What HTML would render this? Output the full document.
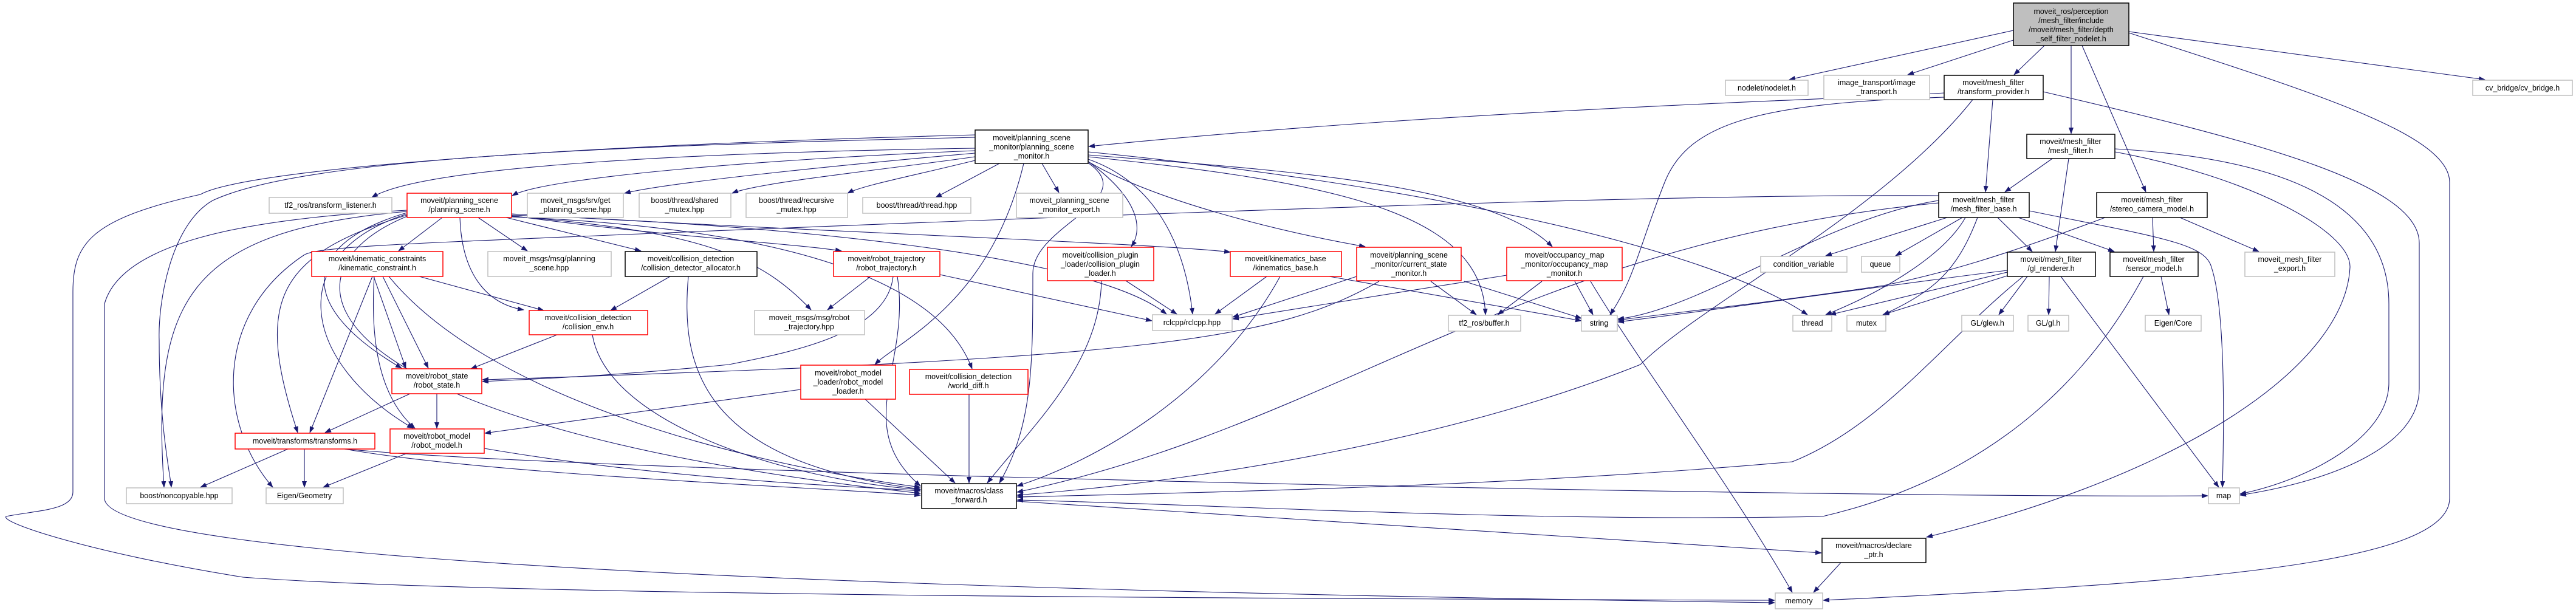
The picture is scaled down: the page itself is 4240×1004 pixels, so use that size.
<!DOCTYPE html>
<html><head><meta charset="utf-8">
<style>
html,body{margin:0;padding:0;background:#fff;}
svg{display:block;}
text{font-family:"Liberation Sans",Arial,sans-serif;font-size:12.5px;fill:#000;text-anchor:middle;}
.e{fill:none;stroke:#191970;stroke-width:1.1;marker-end:url(#a);}
.g{fill:#fff;stroke:#bfbfbf;stroke-width:1.5;}
.b{fill:#fff;stroke:#000;stroke-width:1.5;}
.r{fill:#fff;stroke:#ff0000;stroke-width:1.5;}
.rt{fill:#bfbfbf;stroke:#000;stroke-width:1.5;}
</style></head>
<body>
<svg width="4240" height="1004" viewBox="0 0 4240 1004" xmlns="http://www.w3.org/2000/svg">
<defs>
<marker id="a" markerWidth="11" markerHeight="8" refX="10" refY="4" orient="auto" markerUnits="userSpaceOnUse">
<path d="M0,0 L11,4 L0,8 z" fill="#191970"/>
</marker>
</defs>

<!-- EDGES -->
<g>
<!-- root -->
<path class="e" d="M3314,50 L2945,131"/>
<path class="e" d="M3314,66 L3140,123"/>
<path class="e" d="M3365,75 L3315,123"/>
<path class="e" d="M3409,75 L3409,220"/>
<path class="e" d="M3427,75 L3532,316"/>
<path class="e" d="M3504,52 L4090,131"/>
<path class="e" d="M3504,54 C3800,150 4032,220 4032,300 L4032,820 C4032,930 3600,960 3001,988"/>
<!-- transform_provider -->
<path class="e" d="M3200,153 C3000,165 2400,180 1792,241"/>
<path class="e" d="M3200,160 C2900,170 2780,200 2740,300 C2700,400 2690,460 2650,518"/>
<path class="e" d="M3280,164 L3268,316"/>
<path class="e" d="M3247,164 C3100,350 2800,500 2700,600 C2400,720 2000,790 1674,815"/>
<path class="e" d="M3363,151 C3700,230 3982,300 3982,400 L3982,640 C3982,730 3850,790 3687,815"/>
<!-- mesh_filter.h -->
<path class="e" d="M3378,261 L3300,316"/>
<path class="e" d="M3405,261 L3383,414"/>
<path class="e" d="M3481,245 C3750,260 3932,330 3932,500 L3932,630 C3932,720 3800,790 3687,813"/>
<path class="e" d="M3481,250 C3700,290 3870,380 3868,440 C3860,600 3600,780 3171,884"/>
<!-- stereo -->
<path class="e" d="M3543,358 L3545,414"/>
<path class="e" d="M3588,358 L3718,414"/>
<path class="e" d="M3465,358 C3300,420 3200,450 3100,470 C2900,500 2750,515 2663,527"/>
<!-- mesh_filter_base -->
<path class="e" d="M3205,358 L3005,421"/>
<path class="e" d="M3230,358 L3120,421"/>
<path class="e" d="M3235,358 C3200,420 3100,480 3005,518"/>
<path class="e" d="M3255,358 C3220,450 3180,480 3100,518"/>
<path class="e" d="M3288,358 L3345,414"/>
<path class="e" d="M3322,358 L3480,414"/>
<path class="e" d="M3340,347 C3550,390 3630,400 3640,440 C3660,500 3662,650 3658,802"/>
<path class="e" d="M3191,330 C3000,360 2800,510 2663,525"/>
<path class="e" d="M3191,322 C2900,320 2400,330 1100,383 C700,400 520,405 500,420 C350,520 360,700 449,802"/>
<path class="e" d="M3191,334 C2500,400 2200,700 1674,810"/>
<!-- gl_renderer -->
<path class="e" d="M3337,455 L3290,518"/>
<path class="e" d="M3373,455 L3372,518"/>
<path class="e" d="M3392,455 L3652,802"/>
<path class="e" d="M3304,448 L3012,518"/>
<path class="e" d="M3310,452 L3099,518"/>
<path class="e" d="M3304,445 C3100,470 2900,500 2663,530"/>
<path class="e" d="M3330,455 C3200,560 3100,700 2950,760 C2500,800 2000,810 1674,818"/>
<!-- sensor_model -->
<path class="e" d="M3557,455 L3570,518"/>
<path class="e" d="M3528,455 C3450,600 3300,780 3000,850 C2500,860 2000,830 1674,823"/>
<!-- planning_scene_monitor -->
<path class="e" d="M1605,244 C1200,250 700,270 612,325"/>
<path class="e" d="M1605,248 C1300,260 900,290 843,322"/>
<path class="e" d="M1605,252 C1400,270 1100,300 1028,318"/>
<path class="e" d="M1605,258 C1450,280 1250,300 1205,318"/>
<path class="e" d="M1605,264 C1500,290 1420,305 1395,318"/>
<path class="e" d="M1645,269 L1540,325"/>
<path class="e" d="M1715,269 L1743,317"/>
<path class="e" d="M1685,269 C1630,500 1480,560 1440,600"/>
<path class="e" d="M1790,265 C1880,330 1880,380 1862,406"/>
<path class="e" d="M1791,262 C1900,300 1950,400 1963,517"/>
<path class="e" d="M1791,266 C1900,330 2100,380 2247,406"/>
<path class="e" d="M1791,255 C2100,280 2450,300 2555,406"/>
<path class="e" d="M1791,258 C2200,300 2440,350 2445,518"/>
<path class="e" d="M1791,250 C2300,300 2800,400 2975,518"/>
<path class="e" d="M1791,268 C1880,330 1700,370 1700,450 C1700,600 1700,700 1645,795"/>
<path class="e" d="M1605,226 C1000,240 500,260 350,330 C280,370 260,500 262,560 C262,700 280,780 282,802"/>
<path class="e" d="M1605,222 C900,240 400,280 330,320 C150,360 120,400 120,480 L120,810 C120,840 60,840 10,850 C0,860 150,910 400,950 C800,980 2000,985 2921,988"/>
<!-- planning_scene.h -->
<path class="e" d="M728,358 L656,413"/>
<path class="e" d="M787,358 L868,413"/>
<path class="e" d="M833,358 L1055,413"/>
<path class="e" d="M842,355 C1100,390 1300,400 1385,413"/>
<path class="e" d="M842,352 C1300,380 1900,400 2025,415"/>
<path class="e" d="M757,358 C760,450 800,500 862,510"/>
<path class="e" d="M842,354 C1300,370 1800,420 1920,517"/>
<path class="e" d="M842,356 C1150,380 1250,420 1335,510"/>
<path class="e" d="M842,357 C1400,380 1560,500 1600,607"/>
<path class="e" d="M670,350 C500,400 480,500 661,606"/>
<path class="e" d="M670,352 C460,420 500,600 680,705"/>
<path class="e" d="M670,354 C450,420 420,500 490,712"/>
<path class="e" d="M670,356 C440,450 500,700 1515,812"/>
<path class="e" d="M670,348 C300,380 250,500 270,802"/>
<path class="e" d="M670,346 C400,360 200,400 172,500 L172,820 C172,880 600,960 2921,992"/>
<!-- kinematic_constraint -->
<path class="e" d="M690,455 L895,511"/>
<path class="e" d="M630,455 L705,606"/>
<path class="e" d="M615,455 L668,606"/>
<path class="e" d="M613,455 L510,712"/>
<path class="e" d="M616,455 C610,550 620,650 683,705"/>
<path class="e" d="M640,455 C800,650 1200,760 1515,802"/>
<!-- cd_allocator -->
<path class="e" d="M1103,455 L1005,511"/>
<path class="e" d="M1133,455 C1120,600 1150,760 1515,805"/>
<!-- collision_env -->
<path class="e" d="M917,551 L775,607"/>
<path class="e" d="M975,551 C1000,700 1300,790 1515,806"/>
<!-- robot_state -->
<path class="e" d="M675,648 L535,712"/>
<path class="e" d="M719,648 L719,705"/>
<!-- robot_model -->
<path class="e" d="M670,746 L532,802"/>
<path class="e" d="M797,738 C1100,790 1400,800 1515,808"/>
<!-- transforms -->
<path class="e" d="M474,739 L330,802"/>
<path class="e" d="M501,739 L501,802"/>
<path class="e" d="M567,739 C800,780 1300,800 1515,815"/>
<path class="e" d="M567,739 C1000,780 3000,820 3634,816"/>
<!-- robot_trajectory -->
<path class="e" d="M1433,455 L1362,510"/>
<path class="e" d="M1547,452 L1896,528"/>
<path class="e" d="M1470,455 C1460,550 1300,580 1200,600 C1000,620 850,625 794,628"/>
<path class="e" d="M1477,455 C1500,600 1400,700 1515,800"/>
<!-- robot_model_loader -->
<path class="e" d="M1318,641 L798,713"/>
<path class="e" d="M1424,657 L1572,795"/>
<!-- world_diff -->
<path class="e" d="M1595,649 L1595,795"/>
<!-- collision_plugin_loader -->
<path class="e" d="M1853,462 L1937,517"/>
<path class="e" d="M1813,462 C1810,600 1700,700 1625,795"/>
<!-- kinematics_base -->
<path class="e" d="M2085,455 L2000,517"/>
<path class="e" d="M2188,455 L2603,528"/>
<path class="e" d="M2107,455 C2000,650 1800,760 1674,800"/>
<!-- current_state_monitor -->
<path class="e" d="M2233,455 L2029,522"/>
<path class="e" d="M2355,463 L2430,518"/>
<path class="e" d="M2410,463 L2603,524"/>
<path class="e" d="M2270,463 C2100,560 1900,590 794,625"/>
<!-- occupancy -->
<path class="e" d="M2480,453 L2029,525"/>
<path class="e" d="M2538,463 L2465,518"/>
<path class="e" d="M2592,463 L2622,518"/>
<path class="e" d="M2618,463 C2700,600 2850,800 2950,975"/>
<!-- declare_ptr / class_forward -->
<path class="e" d="M3030,926 L2985,975"/>
<path class="e" d="M1673,825 L2998,910"/>
</g>

<!-- NODES -->
<g>
<rect class="rt" x="3314" y="5" width="190" height="70"/>
<text x="3409" y="23">moveit_ros/perception</text>
<text x="3409" y="38">/mesh_filter/include</text>
<text x="3409" y="53">/moveit/mesh_filter/depth</text>
<text x="3409" y="68">_self_filter_nodelet.h</text>

<rect class="g" x="2840" y="132" width="136" height="25"/>
<text x="2908" y="149">nodelet/nodelet.h</text>

<rect class="g" x="3002" y="124" width="174" height="40"/>
<text x="3089" y="140">image_transport/image</text>
<text x="3089" y="155">_transport.h</text>

<rect class="b" x="3200" y="124" width="163" height="40"/>
<text x="3281" y="140">moveit/mesh_filter</text>
<text x="3281" y="155">/transform_provider.h</text>

<rect class="g" x="4070" y="132" width="164" height="25"/>
<text x="4152" y="149">cv_bridge/cv_bridge.h</text>

<rect class="b" x="1605" y="214" width="186" height="55"/>
<text x="1698" y="231">moveit/planning_scene</text>
<text x="1698" y="246">_monitor/planning_scene</text>
<text x="1698" y="261">_monitor.h</text>

<rect class="b" x="3336" y="221" width="145" height="40"/>
<text x="3408" y="237">moveit/mesh_filter</text>
<text x="3408" y="252">/mesh_filter.h</text>

<rect class="g" x="443" y="325" width="202" height="26"/>
<text x="544" y="342">tf2_ros/transform_listener.h</text>

<rect class="r" x="670" y="318" width="172" height="40"/>
<text x="756" y="334">moveit/planning_scene</text>
<text x="756" y="349">/planning_scene.h</text>

<rect class="g" x="868" y="318" width="158" height="40"/>
<text x="947" y="334">moveit_msgs/srv/get</text>
<text x="947" y="349">_planning_scene.hpp</text>

<rect class="g" x="1052" y="318" width="151" height="40"/>
<text x="1127" y="334">boost/thread/shared</text>
<text x="1127" y="349">_mutex.hpp</text>

<rect class="g" x="1228" y="318" width="167" height="40"/>
<text x="1311" y="334">boost/thread/recursive</text>
<text x="1311" y="349">_mutex.hpp</text>

<rect class="g" x="1420" y="325" width="178" height="26"/>
<text x="1509" y="342">boost/thread/thread.hpp</text>

<rect class="g" x="1673" y="318" width="175" height="40"/>
<text x="1760" y="334">moveit_planning_scene</text>
<text x="1760" y="349">_monitor_export.h</text>

<rect class="b" x="3191" y="317" width="149" height="41"/>
<text x="3265" y="333">moveit/mesh_filter</text>
<text x="3265" y="348">/mesh_filter_base.h</text>

<rect class="b" x="3451" y="317" width="182" height="41"/>
<text x="3542" y="333">moveit/mesh_filter</text>
<text x="3542" y="348">/stereo_camera_model.h</text>

<rect class="r" x="513" y="414" width="216" height="41"/>
<text x="621" y="430">moveit/kinematic_constraints</text>
<text x="621" y="445">/kinematic_constraint.h</text>

<rect class="g" x="803" y="414" width="203" height="41"/>
<text x="904" y="430">moveit_msgs/msg/planning</text>
<text x="904" y="445">_scene.hpp</text>

<rect class="b" x="1029" y="414" width="217" height="41"/>
<text x="1137" y="430">moveit/collision_detection</text>
<text x="1137" y="445">/collision_detector_allocator.h</text>

<rect class="r" x="1372" y="414" width="175" height="41"/>
<text x="1459" y="430">moveit/robot_trajectory</text>
<text x="1459" y="445">/robot_trajectory.h</text>

<rect class="r" x="1724" y="407" width="175" height="55"/>
<text x="1811" y="424">moveit/collision_plugin</text>
<text x="1811" y="439">_loader/collision_plugin</text>
<text x="1811" y="454">_loader.h</text>

<rect class="r" x="2025" y="414" width="183" height="41"/>
<text x="2116" y="430">moveit/kinematics_base</text>
<text x="2116" y="445">/kinematics_base.h</text>

<rect class="r" x="2233" y="407" width="172" height="55"/>
<text x="2319" y="424">moveit/planning_scene</text>
<text x="2319" y="439">_monitor/current_state</text>
<text x="2319" y="454">_monitor.h</text>

<rect class="r" x="2480" y="407" width="190" height="55"/>
<text x="2575" y="424">moveit/occupancy_map</text>
<text x="2575" y="439">_monitor/occupancy_map</text>
<text x="2575" y="454">_monitor.h</text>

<rect class="g" x="2898" y="422" width="142" height="26"/>
<text x="2969" y="439">condition_variable</text>

<rect class="g" x="3064" y="422" width="63" height="26"/>
<text x="3095" y="439">queue</text>

<rect class="b" x="3304" y="415" width="145" height="40"/>
<text x="3376" y="431">moveit/mesh_filter</text>
<text x="3376" y="446">/gl_renderer.h</text>

<rect class="b" x="3473" y="415" width="145" height="40"/>
<text x="3545" y="431">moveit/mesh_filter</text>
<text x="3545" y="446">/sensor_model.h</text>

<rect class="g" x="3695" y="415" width="148" height="40"/>
<text x="3769" y="431">moveit_mesh_filter</text>
<text x="3769" y="446">_export.h</text>

<rect class="r" x="871" y="511" width="195" height="40"/>
<text x="968" y="527">moveit/collision_detection</text>
<text x="968" y="542">/collision_env.h</text>

<rect class="g" x="1242" y="511" width="181" height="40"/>
<text x="1332" y="527">moveit_msgs/msg/robot</text>
<text x="1332" y="542">_trajectory.hpp</text>

<rect class="g" x="1897" y="518" width="131" height="26"/>
<text x="1962" y="535">rclcpp/rclcpp.hpp</text>

<rect class="g" x="2384" y="519" width="119" height="26"/>
<text x="2443" y="536">tf2_ros/buffer.h</text>

<rect class="g" x="2603" y="519" width="59" height="26"/>
<text x="2632" y="536">string</text>

<rect class="g" x="2951" y="519" width="64" height="26"/>
<text x="2983" y="536">thread</text>

<rect class="g" x="3040" y="519" width="64" height="26"/>
<text x="3072" y="536">mutex</text>

<rect class="g" x="3229" y="519" width="85" height="26"/>
<text x="3271" y="536">GL/glew.h</text>

<rect class="g" x="3338" y="519" width="67" height="26"/>
<text x="3371" y="536">GL/gl.h</text>

<rect class="g" x="3531" y="519" width="92" height="26"/>
<text x="3577" y="536">Eigen/Core</text>

<rect class="r" x="645" y="607" width="148" height="41"/>
<text x="719" y="623">moveit/robot_state</text>
<text x="719" y="638">/robot_state.h</text>

<rect class="r" x="1318" y="601" width="156" height="56"/>
<text x="1396" y="618">moveit/robot_model</text>
<text x="1396" y="633">_loader/robot_model</text>
<text x="1396" y="648">_loader.h</text>

<rect class="r" x="1497" y="608" width="195" height="41"/>
<text x="1594" y="624">moveit/collision_detection</text>
<text x="1594" y="639">/world_diff.h</text>

<rect class="r" x="387" y="713" width="230" height="26"/>
<text x="502" y="730">moveit/transforms/transforms.h</text>

<rect class="r" x="642" y="706" width="155" height="40"/>
<text x="719" y="722">moveit/robot_model</text>
<text x="719" y="737">/robot_model.h</text>

<rect class="b" x="1517" y="796" width="156" height="41"/>
<text x="1595" y="812">moveit/macros/class</text>
<text x="1595" y="827">_forward.h</text>

<rect class="g" x="208" y="803" width="174" height="26"/>
<text x="295" y="820">boost/noncopyable.hpp</text>

<rect class="g" x="438" y="803" width="127" height="26"/>
<text x="501" y="820">Eigen/Geometry</text>

<rect class="g" x="3635" y="803" width="51" height="26"/>
<text x="3660" y="820">map</text>

<rect class="b" x="2999" y="886" width="171" height="40"/>
<text x="3084" y="902">moveit/macros/declare</text>
<text x="3084" y="917">_ptr.h</text>

<rect class="g" x="2922" y="976" width="78" height="26"/>
<text x="2961" y="993">memory</text>
</g>
</svg>
</body></html>
